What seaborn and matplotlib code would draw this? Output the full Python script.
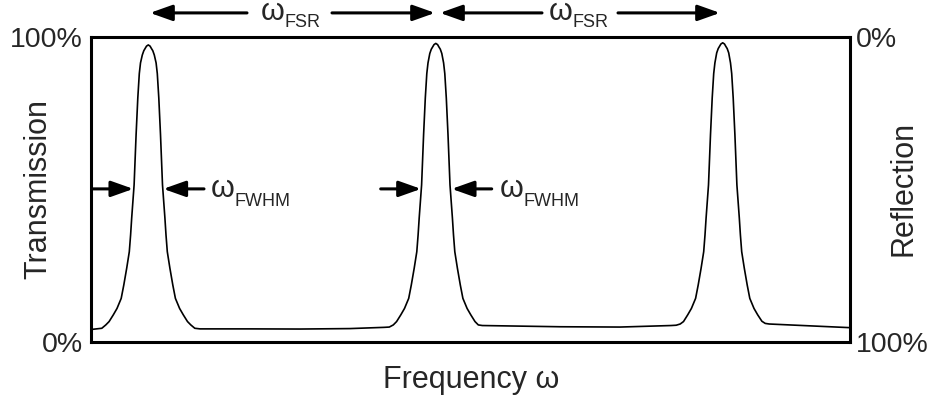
import matplotlib
matplotlib.use("Agg")
import matplotlib.pyplot as plt
import seaborn as sns
import pandas as pd
import numpy as np

# Curve: frequency (arbitrary units, 0..759) vs transmission (%)
edge_x = [0, 5]
edge_y = [4.1, 4.3]

peak1_x = [10.8, 14.8, 18.1, 22.3, 26.0, 30.2, 32.8, 35.7, 38.3, 39.6, 40.7, 43.1, 45.1,
           46.8, 48.3, 49.5, 51.3, 52.8, 54.3, 55.5, 57.3,
           59.1, 60.3, 61.8, 63.3, 65.1, 66.3, 67.8, 69.5, 71.5, 73.9, 75.0, 76.3, 78.9,
           81.8, 84.4, 88.6, 92.3, 96.5, 99.8, 103.8]
peak1_y = [4.5, 5.6, 6.7, 8.9, 11.0, 14.3, 18.7, 24.2, 29.6, 35.1, 40.7, 51.5, 68.0,
           80.0, 88.0, 91.5, 94.1, 95.5, 96.3, 97.0, 97.4,
           97.0, 96.3, 95.5, 94.1, 91.5, 88.0, 80.0, 68.0, 51.5, 40.7, 35.1, 29.6, 24.2,
           18.7, 14.3, 11.0, 8.9, 6.7, 5.6, 4.5]

base1_x = [109, 159, 209, 259, 293]
base1_y = [4.3, 4.3, 4.25, 4.4, 4.8]

peak2_x = [298.3, 302.3, 305.6, 309.8, 313.5, 317.7, 320.3, 323.2, 325.8, 327.1, 328.2,
           330.6, 332.6, 334.3, 335.8, 337.0, 338.8, 340.3, 341.8, 343.0, 344.8,
           346.6, 347.8, 349.3, 350.8, 352.6, 353.8, 355.3, 357.0, 359.0, 361.4, 362.5,
           363.8, 366.4, 369.3, 371.9, 376.1, 379.8, 384.0, 387.3, 391.3]
peak2_y = [4.9, 5.6, 6.7, 8.9, 11.0, 14.3, 18.7, 24.2, 29.6, 35.1, 40.7,
           51.5, 68.0, 80.0, 88.0, 91.5, 94.6, 96.0, 96.8, 97.5, 97.9,
           97.5, 96.8, 96.0, 94.6, 91.5, 88.0, 80.0, 68.0, 51.5, 40.7, 35.1,
           29.6, 24.2, 18.7, 14.3, 11.0, 8.9, 6.7, 5.6, 5.4]

base2_x = [469, 529, 580]
base2_y = [5.0, 4.9, 5.4]

peak3_x = [585.2, 589.2, 592.5, 596.7, 600.4, 604.6, 607.2, 610.1, 612.7, 614.0, 615.1,
           617.5, 619.5, 621.2, 622.7, 623.9, 625.7, 627.2, 628.7, 629.9, 631.7,
           633.5, 634.7, 636.2, 637.7, 639.5, 640.7, 642.2, 643.9, 645.9, 648.3, 649.4,
           650.7, 653.3, 656.2, 658.8, 663.0, 666.7, 670.9, 674.2, 678.2]
peak3_y = [5.5, 5.9, 6.7, 8.9, 11.0, 14.3, 18.7, 24.2, 29.6, 35.1, 40.7,
           51.5, 68.0, 80.0, 88.0, 91.5, 94.8, 96.2, 97.0, 97.7, 98.1,
           97.7, 97.0, 96.2, 94.8, 91.5, 88.0, 80.0, 68.0, 51.5, 40.7, 35.1,
           29.6, 24.2, 18.7, 14.3, 11.0, 8.9, 6.8, 6.1, 5.9]

tail_x = [759]
tail_y = [4.7]

# annotation anchors (data units)
fsr_arrows = [(156, 59), (241, 344), (451, 349), (527, 629)]   # (tail, tip)
fsr_labels = [169, 457]
fwhm_arrows = [(1.7, 42.3), (113, 72.3), (289.7, 330), (400.7, 360.7)]
fwhm_labels = [119.7, 408.3]
fwhm_level = 50.2

df = pd.DataFrame({
    "freq": edge_x + peak1_x + base1_x + peak2_x + base2_x + peak3_x + tail_x,
    "trans": edge_y + peak1_y + base1_y + peak2_y + base2_y + peak3_y + tail_y,
})

sns.set_theme(style="white")
plt.rcParams['font.family'] = ['Liberation Sans', 'DejaVu Sans']
plt.rcParams['mathtext.fontset'] = 'custom'
plt.rcParams['mathtext.rm'] = 'Liberation Sans'

fig = plt.figure(figsize=(9.4, 4.0), dpi=100)
ax = fig.add_axes([91/940, 58/400, 759/940, 305/400])

sns.lineplot(data=df, x="freq", y="trans", ax=ax, color="black", lw=1.2,
             estimator=None, sort=False)

ax.set_xlim(0, 759)
ax.set_ylim(0, 100)
ax.set_xticks([])
ax.set_yticks([0, 100])
ax.set_yticklabels(["0%", "100%"], fontsize=20.5)
ax.tick_params(axis="y", length=0, pad=6)
ax.set_xlabel("")
ax.set_ylabel("")
for s in ax.spines.values():
    s.set_visible(True)
    s.set_color("black")
    s.set_linewidth(2.2)

ax2 = ax.twinx()
ax2.set_ylim(100, 0)
ax2.set_yticks([0, 100])
ax2.set_yticklabels(["0%", "100%"], fontsize=20.5)
ax2.tick_params(axis="y", length=0, pad=4)
for s in ax2.spines.values():
    s.set_visible(False)

# axis titles
fig.text(38/940, 1 - 189/400, "Transmission", rotation=90, fontsize=22,
         ha="center", va="center")
fig.text(904/940, 1 - 188/400, "Reflection", rotation=90, fontsize=22,
         ha="center", va="center")
fig.text(471/940, 1 - 380/400, "Frequency ω", fontsize=22, ha="center", va="center")

arrow = dict(arrowstyle="-|>,head_length=0.45,head_width=0.16", color="black",
             lw=2.2, mutation_scale=30, shrinkA=0, shrinkB=0)

y_fsr = 1.079
for tail, tip in fsr_arrows:
    ax.annotate("", xy=(tip, y_fsr), xytext=(tail, y_fsr),
                xycoords=("data", "axes fraction"), textcoords=("data", "axes fraction"),
                arrowprops=arrow, annotation_clip=False)
for xl in fsr_labels:
    # mathtext keeps the box tight to the glyph so it stays inside the figure
    ax.text(xl, 1.056, r"$\mathrm{ω}$", transform=ax.get_xaxis_transform(),
            fontsize=22, ha="left", va="baseline")
    ax.text(xl + 25, 1.033, "FSR", transform=ax.get_xaxis_transform(), fontsize=13,
            ha="left", va="baseline")

for tail, tip in fwhm_arrows:
    ax.annotate("", xy=(tip, fwhm_level), xytext=(tail, fwhm_level),
                arrowprops=arrow, annotation_clip=False)
for xl in fwhm_labels:
    ax.text(xl, 47.6, "ω", fontsize=22, ha="left", va="baseline")
    ax.text(xl + 24, 44.6, "FWHM", fontsize=13, ha="left", va="baseline")

plt.savefig("out.png", dpi=100)
